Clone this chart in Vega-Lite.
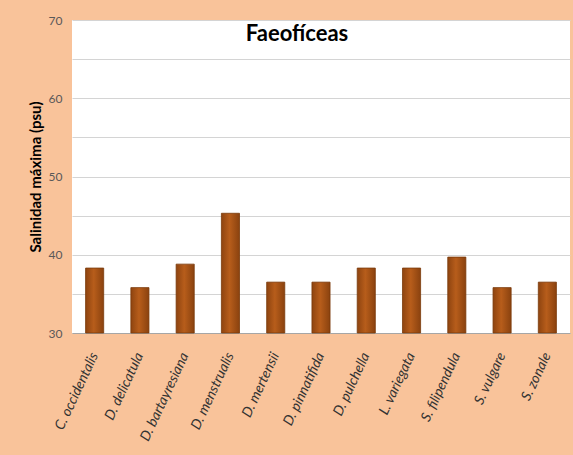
{
  "$schema": "https://vega.github.io/schema/vega-lite/v6.json",
  "autosize": {"type": "none"},
  "width": 498,
  "height": 313,
  "padding": {"left": 72, "top": 20, "right": 3, "bottom": 122},
  "background": "#F9C39A",
  "title": {
    "text": "Faeofíceas",
    "font": "Lato",
    "fontSize": 22,
    "fontWeight": "bold",
    "color": "#000000",
    "anchor": "middle",
    "dx": -24,
    "offset": -32
  },
  "data": {
    "values": [
      {"especie": "C. occidentalis", "salinidad": 38.3},
      {"especie": "D. delicatula", "salinidad": 35.8},
      {"especie": "D. bartayresiana", "salinidad": 38.8},
      {"especie": "D. menstrualis", "salinidad": 45.3},
      {"especie": "D. mertensii", "salinidad": 36.5},
      {"especie": "D. pinnatifida", "salinidad": 36.5},
      {"especie": "D. pulchella", "salinidad": 38.3},
      {"especie": "L. variegata", "salinidad": 38.3},
      {"especie": "S. filipendula", "salinidad": 39.7},
      {"especie": "S. vulgare", "salinidad": 35.8},
      {"especie": "S. zonale", "salinidad": 36.5}
    ]
  },
  "mark": {
    "type": "bar",
    "stroke": "#7A3A0A",
    "strokeWidth": 0.8,
    "color": {
      "gradient": "linear",
      "x1": 0, "y1": 0, "x2": 1, "y2": 0,
      "stops": [
        {"offset": 0, "color": "#8E4410"},
        {"offset": 0.45, "color": "#B75D1B"},
        {"offset": 1, "color": "#8A420F"}
      ]
    }
  },
  "encoding": {
    "x": {
      "field": "especie",
      "type": "nominal",
      "sort": null,
      "scale": {"paddingInner": 0.6, "paddingOuter": 0.3},
      "axis": {
        "title": null,
        "labelAngle": -65,
        "labelFont": "Lato",
        "labelFontSize": 14,
        "labelFontStyle": "italic",
        "labelColor": "#333333",
        "labelPadding": 20,
        "ticks": false,
        "domainColor": "#A6A6A6"
      }
    },
    "y": {
      "field": "salinidad",
      "type": "quantitative",
      "scale": {"domain": [30, 70], "zero": false, "nice": false},
      "axis": {
        "title": "Salinidad máxima (psu)",
        "titleFont": "Lato",
        "titleFontSize": 15,
        "titleFontWeight": "bold",
        "titleColor": "#000000",
        "titlePadding": 5,
        "values": [30, 35, 40, 45, 50, 55, 60, 65, 70],
        "labelExpr": "datum.value % 10 === 0 ? datum.label : ''",
        "labelFont": "Lato",
        "labelFontSize": 12,
        "labelColor": "#595959",
        "labelPadding": 10,
        "ticks": false,
        "domain": false,
        "gridColor": "#D4D4D4"
      }
    },
    "y2": {"datum": 30}
  },
  "config": {
    "view": {"fill": "#FFFFFF", "stroke": null}
  }
}
